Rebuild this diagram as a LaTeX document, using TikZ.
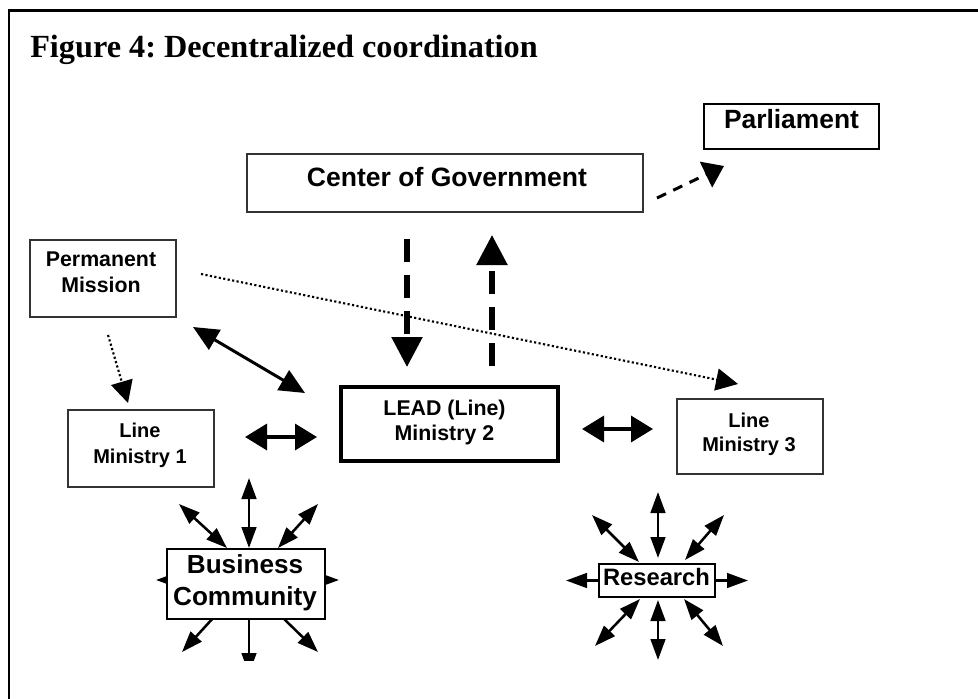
\documentclass[tikz,border=0pt]{standalone}
\usepackage{fontspec}
\setmainfont{Liberation Serif}
\newfontfamily\boxfont{Liberation Sans}
\usetikzlibrary{arrows.meta,backgrounds}
\frenchspacing
\begin{document}
\begin{tikzpicture}[x=0.75pt,y=-0.75pt,
  box/.style={draw=black!80, line width=0.9pt, fill=white, inner sep=0pt},
  thickbox/.style={box, draw=black, line width=1.9pt},
  leadbox/.style={box, draw=black, line width=3pt},
  label/.style={inner sep=0pt, align=center, font=\boxfont\bfseries},
  bigdash/.style={line width=4.1pt, dash pattern=on 17pt off 10pt,
    -{Triangle[length=22.5pt,width=22.5pt]}},
  smalldash/.style={line width=2.25pt, dash pattern=on 7.5pt off 6pt,
    -{Triangle[length=15pt,width=21pt]}},
  dotarrow/.style={line width=1.6pt, dash pattern=on 1.6pt off 1.8pt,
    -{Triangle[length=16.5pt,width=16.5pt]}},
  twoway/.style={line width=2.6pt,
    {Triangle[length=16.5pt,width=19.5pt]}-{Triangle[length=16.5pt,width=19.5pt]}},
  slanttwoway/.style={line width=2.25pt,
    {Triangle[length=19pt,width=17pt]}-{Triangle[length=19pt,width=17pt]}},
  ray/.style={line width=1.9pt, -{Triangle[length=15.75pt,width=11pt]}},
  tworay/.style={line width=1.9pt,
    {Triangle[length=15.75pt,width=11pt]}-{Triangle[length=15.75pt,width=11pt]}}
]
\clip (0,0) rectangle (978,699);
\useasboundingbox (0,0) rectangle (978,699);

% outer frame, running past the page on the right and bottom
\draw[line width=1.8pt] (1000,720) -- (8.7,720) -- (8.7,10.7) -- (1000,10.7);

% heading
\node[anchor=base west, inner sep=0pt, font=\bfseries\fontsize{24.2}{29}\selectfont]
  (title) at (30,58) {Figure 4: Decentralized coordination};

% boxes
\node[box, minimum width=297pt, minimum height=43.5pt] (cog) at (445,183) {};
\node[thickbox, minimum width=131.25pt, minimum height=33.75pt] (parl) at (791.5,126.5) {};
\node[box, minimum width=109.5pt, minimum height=57.75pt] (pm) at (103,278.5) {};
\node[box, minimum width=109.5pt, minimum height=57.75pt] (lm1) at (141,448.5) {};
\node[leadbox, minimum width=162.75pt, minimum height=55.5pt] (lead) at (449.5,424) {};
\node[box, minimum width=109.5pt, minimum height=56.25pt] (lm3) at (750,436.5) {};
\node[thickbox, minimum width=118.5pt, minimum height=52.5pt] (bc) at (246,584) {};
\node[thickbox, minimum width=87pt, minimum height=24.75pt] (res) at (657,580.5) {};

% box texts
\node[label, font=\boxfont\bfseries\fontsize{19.9}{24}\selectfont] (cogT) at (447,177.5) {Center of Government};
\node[label, font=\boxfont\bfseries\fontsize{19.8}{24}\selectfont] (parlT) at (791.5,119.5) {Parliament};
\node[label, font=\boxfont\bfseries\fontsize{16}{19.5}\selectfont] (pmT) at (101,272.3) {Permanent\\Mission};
\node[label, font=\boxfont\bfseries\fontsize{15}{19.5}\selectfont] (lm1T) at (140,444.9) {Line\\Ministry 1};
\node[label, font=\boxfont\bfseries\fontsize{16}{18.75}\selectfont] (leadT) at (444.5,422) {LEAD (Line)\\Ministry 2};
\node[label, font=\boxfont\bfseries\fontsize{15}{18}\selectfont] (lm3T) at (749,434) {Line\\Ministry 3};
\node[label, font=\boxfont\bfseries\fontsize{19.6}{24}\selectfont] (bcT) at (245,582.4) {Business\\Community};
\node[label, font=\boxfont\bfseries\fontsize{17.8}{21}\selectfont] (resT) at (656.5,577.5) {Research};

% connector end points
\coordinate (pa1) at (657,198);  \coordinate (pa2) at (724,166);
\coordinate (cd1) at (407,239);  \coordinate (cd2) at (407,367);
\coordinate (cu1) at (492,366);  \coordinate (cu2) at (492,235);
\coordinate (pl1) at (193,327);  \coordinate (pl2) at (305,393);
\coordinate (ml1) at (245,437);  \coordinate (ml2) at (317,437);
\coordinate (ml3) at (582,429);  \coordinate (ml4) at (653,429);
\coordinate (pd1) at (108,335);  \coordinate (pd2) at (128,403);
\coordinate (pd3) at (201,274);  \coordinate (pd4) at (738,384);

% links between the ministries and the centre
\draw[smalldash] (pa1) -- (pa2);
\draw[bigdash] (cd1) -- (cd2);
\draw[bigdash] (cu1) -- (cu2);
\draw[slanttwoway] (pl1) -- (pl2);
\draw[twoway] (ml1) -- (ml2);
\draw[twoway] (ml3) -- (ml4);
\draw[dotarrow] (pd1) -- (pd2);
\draw[dotarrow] (pd3) -- (pd4);

% rays around the business community (behind its box)
\coordinate (bcc) at (246,582);
\coordinate (bu1) at (249,548);  \coordinate (bu2) at (249,478);
\coordinate (bul1) at (227,548); \coordinate (bul2) at (179,504);
\coordinate (bur1) at (278,548); \coordinate (bur2) at (318,504);
\coordinate (bl0) at (246,580);  \coordinate (bl) at (156,580);
\coordinate (br) at (339,580);
\coordinate (bdl) at (182,652);  \coordinate (bdr) at (318,652);
\coordinate (bd0) at (249,584);  \coordinate (bd) at (249,674);
\begin{pgfonlayer}{background}
  \draw[tworay] (bu1) -- (bu2);
  \draw[tworay] (bul1) -- (bul2);
  \draw[tworay] (bur1) -- (bur2);
  \draw[ray] (bl0) -- (bl);
  \draw[ray] (bl0) -- (br);
  \draw[ray] (bcc) -- (bdl);
  \draw[ray] (bcc) -- (bdr);
  \begin{scope}
    \clip (0,0) rectangle (978,660);
    \draw[ray] (bd0) -- (bd);
  \end{scope}
\end{pgfonlayer}

% rays around research
\coordinate (ru1) at (658,558);  \coordinate (ru2) at (658,492);
\coordinate (rul1) at (639,562); \coordinate (rul2) at (592,515);
\coordinate (rur1) at (685,560); \coordinate (rur2) at (724,515);
\coordinate (rl) at (566,580.5); \coordinate (rr) at (748,580.5);
\coordinate (rdl1) at (640,599); \coordinate (rdl2) at (595,646);
\coordinate (rd1) at (658,600);  \coordinate (rd2) at (658,660);
\coordinate (rdr1) at (684,599); \coordinate (rdr2) at (723,646);
\draw[tworay] (ru1) -- (ru2);
\draw[tworay] (rul1) -- (rul2);
\draw[tworay] (rur1) -- (rur2);
\draw[ray] (res.west) -- (rl);
\draw[ray] (res.east) -- (rr);
\draw[tworay] (rdl1) -- (rdl2);
\draw[tworay] (rd1) -- (rd2);
\draw[tworay] (rdr1) -- (rdr2);
\end{tikzpicture}
\end{document}
